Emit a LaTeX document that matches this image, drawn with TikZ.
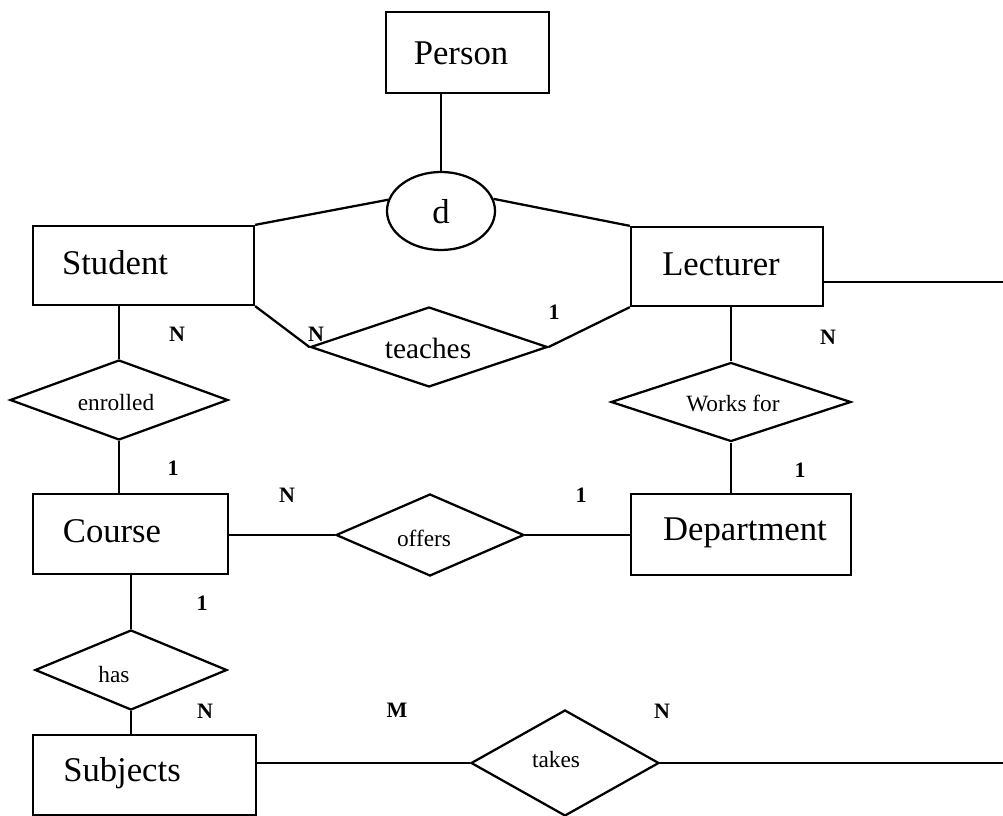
\documentclass[tikz,border=0pt]{standalone}
\usepackage{fontspec}
\setmainfont{Liberation Serif}
\usetikzlibrary{shapes.geometric}
\begin{document}
\begin{tikzpicture}[x=0.75pt,y=-0.75pt,line width=1.7pt,
  entity/.style={draw, rectangle, inner sep=0pt},
  rel/.style={draw, diamond, inner sep=0pt},
  etext/.style={font=\fontsize{26}{28}\selectfont, inner sep=0pt},
  ttext/.style={font=\fontsize{22}{24}\selectfont, inner sep=0pt},
  rtext/.style={font=\fontsize{17.5}{20}\selectfont, inner sep=0pt},
  card/.style={font=\bfseries\fontsize{16.5}{19}\selectfont, inner sep=0pt}]
\useasboundingbox (0,0) rectangle (1003,816);

% entities
\node[entity, minimum width=122.25pt, minimum height=60.75pt] (person) at (467.5,52.5) {};
\node[etext] (personT) at (461,53) {Person};
\node[entity, minimum width=165.75pt, minimum height=59.25pt] (student) at (143.5,265.5) {};
\node[etext] (studentT) at (115,263) {Student};
\node[entity, minimum width=144pt, minimum height=59.25pt] (lecturer) at (727,266.5) {};
\node[etext] (lecturerT) at (721,264) {Lecturer};
\node[entity, minimum width=146.25pt, minimum height=60pt] (course) at (130.5,534) {};
\node[etext] (courseT) at (112,531) {Course};
\node[entity, minimum width=165pt, minimum height=60.75pt] (department) at (741,534.5) {};
\node[etext] (departmentT) at (745,533) {Department};
\node[entity, minimum width=167.25pt, minimum height=60pt] (subjects) at (144.5,775) {};
\node[etext] (subjectsT) at (122,773) {Subjects};

% disjointness circle
\node[draw, ellipse, inner sep=0pt, minimum width=81pt, minimum height=58.5pt] (dis) at (441,211) {};
\node[etext] (disT) at (441,212) {d};

% relationships
\node[rel, minimum width=177.75pt, minimum height=60pt] (teaches) at (429,347) {};
\node[ttext] (teachesT) at (428,348) {teaches};
\node[rel, minimum width=163.5pt, minimum height=60pt] (enrolled) at (119,400) {};
\node[rtext] (enrolledT) at (116,403) {enrolled};
\node[rel, minimum width=180pt, minimum height=59.25pt] (works) at (731,402) {};
\node[rtext] (worksT) at (733,403) {Works for};
\node[rel, minimum width=141pt, minimum height=61.5pt] (offers) at (430,535) {};
\node[rtext] (offersT) at (424,538) {offers};
\node[rel, minimum width=144pt, minimum height=60pt] (has) at (131,670) {};
\node[rtext] (hasT) at (114,675) {has};
\node[rel, minimum width=141pt, minimum height=79.5pt] (takes) at (565,763) {};
\node[rtext] (takesT) at (556,760) {takes};

\coordinate (lend) at (1003,282);
\coordinate (tend) at (1003,763);

% connectors
\draw (dis.north) -- (dis.north |- person.south);
\draw (dis.168) -- (student.north east);
\draw (dis.13) -- (lecturer.north west);
\draw (student.south east) -- (teaches.west);
\draw (teaches.east) -- (lecturer.south west);
\draw (lend -| lecturer.east) -- (lend);
\draw (enrolled.north |- student.south) -- (enrolled.north);
\draw (enrolled.south) -- (enrolled.south |- course.north);
\draw (works.north |- lecturer.south) -- (works.north);
\draw (works.south) -- (works.south |- department.north);
\draw (offers.west -| course.east) -- (offers.west);
\draw (offers.east) -- (offers.east -| department.west);
\draw (has.north |- course.south) -- (has.north);
\draw (has.south) -- (has.south |- subjects.north);
\draw (takes.west -| subjects.east) -- (takes.west);
\draw (takes.east) -- (tend);

% cardinalities
\node[card] (c1) at (177,334) {N};
\node[card] (c2) at (316,334) {N};
\node[card] (c3) at (554,312) {1};
\node[card] (c4) at (828,337) {N};
\node[card] (c5) at (173,468) {1};
\node[card] (c6) at (287,495) {N};
\node[card] (c7) at (581,495) {1};
\node[card] (c8) at (800,470) {1};
\node[card] (c9) at (202,603) {1};
\node[card] (c10) at (205,711) {N};
\node[card] (c11) at (397,710) {M};
\node[card] (c12) at (662,711) {N};
\end{tikzpicture}
\end{document}
